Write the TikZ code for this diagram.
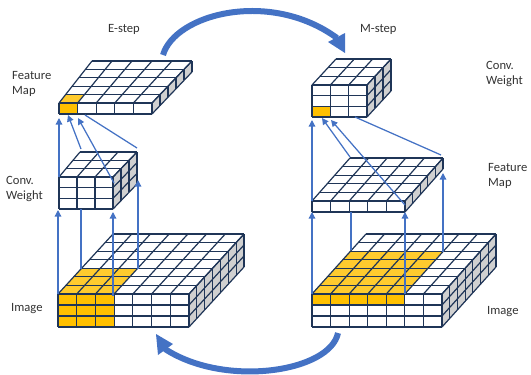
\documentclass[tikz,border=0pt]{standalone}
\usepackage{fontspec}
\setmainfont{Carlito}
\usetikzlibrary{arrows.meta}
\definecolor{gridc}{HTML}{1F3557}
\definecolor{sidec}{HTML}{D0D0D0}
\definecolor{goldf}{HTML}{FFC000}
\definecolor{goldt}{HTML}{FFCB2E}
\definecolor{arrowc}{HTML}{4472C4}
\tikzset{
  cell/.style={draw=gridc,line width=1.2pt,line join=round},
  thin arrow/.style={draw=arrowc,line width=1.25pt,-{Triangle[length=6.5pt,width=6.5pt]},shorten >=0pt},
  thin line/.style={draw=arrowc,line width=1.25pt},
  big arrow/.style={draw=arrowc,line width=6pt},
  big head/.style={fill=arrowc,draw=none},
  lab/.style={font=\fontsize{12.6}{15.6}\selectfont,text=black!80,align=left,anchor=north west,inner sep=0pt},
}
% geometry of the current cuboid
\newcommand\geom[7]{\def\flx{#1}\def\frx{#2}\def\fty{#3}\def\fby{#4}\def\blx{#5}\def\brx{#6}\def\bty{#7}}
\newcommand\topP[2]{({(1-(#2))*(\flx+(#1)*(\frx-\flx))+(#2)*(\blx+(#1)*(\brx-\blx))},{\fty+(#2)*(\bty-\fty)})}
\newcommand\sideP[2]{({\frx+(#1)*(\brx-\frx)},{\fty+(#1)*(\bty-\fty)+(#2)*(\fby-\fty)})}
\newcommand\frontP[2]{({\flx+(#1)*(\frx-\flx)},{\fty+(#2)*(\fby-\fty)})}
\newcommand\goldtop[2]{\fill[goldt] \topP{0}{0} -- \topP{#1}{0} -- \topP{#1}{#2} -- \topP{0}{#2} -- cycle;}
\newcommand\goldfront[4]{\fill[goldf] \frontP{#1}{#3} -- \frontP{#2}{#3} -- \frontP{#2}{#4} -- \frontP{#1}{#4} -- cycle;}
% #1 columns, #2 rows, #3 depth, #4 gold fills
\newcommand\cuboid[4]{%
  \fill[white] \topP{0}{0} -- \topP{1}{0} -- \topP{1}{1} -- \topP{0}{1} -- cycle;
  \fill[white] \frontP{0}{0} -- \frontP{1}{0} -- \frontP{1}{1} -- \frontP{0}{1} -- cycle;
  \fill[sidec] \sideP{0}{0} -- \sideP{1}{0} -- \sideP{1}{1} -- \sideP{0}{1} -- cycle;
  #4
  \foreach \i in {0,...,#1}{\draw[cell] \frontP{\i/#1}{0} -- \frontP{\i/#1}{1};
    \draw[cell] \topP{\i/#1}{0} -- \topP{\i/#1}{1};}
  \foreach \r in {0,...,#2}{\draw[cell] \frontP{0}{\r/#2} -- \frontP{1}{\r/#2};
    \draw[cell] \sideP{0}{\r/#2} -- \sideP{1}{\r/#2};}
  \foreach \d in {0,...,#3}{\draw[cell] \topP{0}{\d/#3} -- \topP{1}{\d/#3};
    \draw[cell] \sideP{\d/#3}{0} -- \sideP{\d/#3}{1};}
}
\begin{document}
\begin{tikzpicture}[x=1pt,y=-1pt]
\useasboundingbox (0,0) rectangle (531,375);
% left column
\geom{58}{189}{294}{327}{113}{244}{234}
\cuboid{7}{3}{7}{\goldtop{3/7}{3/7}\goldfront{0}{3/7}{0}{1}}
\geom{59}{113}{177}{209}{80}{137}{152}
\cuboid{3}{3}{3}{}
\geom{59}{152}{103}{114}{92}{192}{61}
\cuboid{5}{1}{5}{\goldtop{1/5}{1/5}\goldfront{0}{1/5}{0}{1}}
% right column
\geom{312}{442}{294}{327}{366}{496}{234}
\cuboid{7}{3}{7}{\goldtop{5/7}{5/7}\goldfront{0}{5/7}{0}{1/3}}
\geom{312}{405}{201}{212}{350}{443}{158}
\cuboid{5}{1}{5}{}
\geom{312}{367}{85}{117}{336}{391}{59}
\cuboid{3}{3}{3}{\goldfront{0}{1/3}{2/3}{1}}
% connector ends, left
\coordinate (la1) at (59,177);  \coordinate (la2) at (59,118);
\coordinate (lb1) at (81,149);  \coordinate (lb2) at (68,115);
\coordinate (lc1) at (114,183); \coordinate (lc2) at (78,118);
\coordinate (ld1) at (137,148); \coordinate (ld2) at (85,115);
\coordinate (le1) at (138,269); \coordinate (le2) at (138,180);
\coordinate (lf1) at (58,294);  \coordinate (lf2) at (58,210);
\coordinate (lg1) at (81,269);  \coordinate (lg2) at (81,209);
\coordinate (lh1) at (113,296); \coordinate (lh2) at (113,212);
% connector ends, right
\coordinate (ra1) at (312,201); \coordinate (ra2) at (312,120);
\coordinate (rb1) at (350,157); \coordinate (rb2) at (322,118);
\coordinate (rc1) at (405,205); \coordinate (rc2) at (331,120);
\coordinate (rd1) at (441,155); \coordinate (rd2) at (355,117);
\coordinate (re1) at (443,252); \coordinate (re2) at (443,173);
\coordinate (rf1) at (312,294); \coordinate (rf2) at (312,212);
\coordinate (rg1) at (351,250); \coordinate (rg2) at (351,212);
\coordinate (rh1) at (405,294); \coordinate (rh2) at (405,212);
\foreach \n in {la,lb,lc,le,lf,lh,ra,rb,rc,re,rf,rh}{\draw[thin arrow] (\n1) -- (\n2);}
\foreach \n in {ld,lg,rd,rg}{\draw[thin line] (\n1) -- (\n2);}
% big arrows
\coordinate (es) at (163,55);  \coordinate (ee) at (337,38);
\coordinate (et1) at (345,33); \coordinate (et2) at (345,53); \coordinate (et3) at (328,42);
\draw[big arrow] (es) .. controls (175,14) and (270,-11) .. (ee);
\fill[big head] (et1) -- (et2) -- (et3) -- cycle;
\coordinate (ms) at (338,333); \coordinate (me) at (165,349);
\coordinate (mt1) at (156,334); \coordinate (mt2) at (173,344); \coordinate (mt3) at (158,355);
\draw[big arrow] (ms) .. controls (330,372) and (225,388) .. (me);
\fill[big head] (mt1) -- (mt2) -- (mt3) -- cycle;
% labels
\node[lab] (estep) at (108,24) {E-step};
\node[lab] (mstep) at (360,24) {M-step};
\node[lab] (lfm) at (12,71) {Feature\\Map};
\node[lab] (lcw) at (6,176) {Conv.\\Weight};
\node[lab] (lim) at (11,303) {Image};
\node[lab] (rcw) at (486,61) {Conv.\\Weight};
\node[lab] (rfm) at (488,163) {Feature\\Map};
\node[lab] (rim) at (487,306) {Image};
\end{tikzpicture}
\end{document}
